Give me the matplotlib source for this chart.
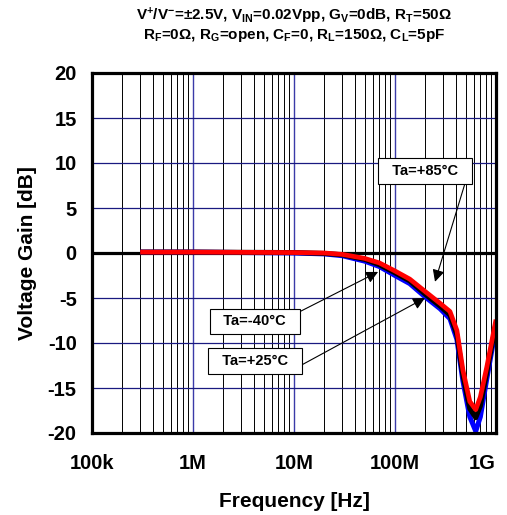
import numpy as np
import matplotlib
matplotlib.use('Agg')
import matplotlib.pyplot as plt
from matplotlib.ticker import FixedLocator, NullFormatter

plt.rcParams['font.family'] = ['Liberation Sans', 'DejaVu Sans']
plt.rcParams['font.weight'] = 'bold'
plt.rcParams['mathtext.fontset'] = 'custom'
plt.rcParams['mathtext.rm'] = 'Liberation Sans:bold'
plt.rcParams['mathtext.bf'] = 'Liberation Sans:bold'
plt.rcParams['mathtext.default'] = 'rm'

# frequency points [Hz]
freq = [3e5, 1e6, 1e7, 2e7, 3e7, 5e7, 7e7, 1e8, 1.4e8, 2e8, 2.8e8, 3.5e8,
        4.1e8, 4.7e8, 5.5e8, 6.3e8, 7e8, 8.1e8, 1e9]
# gain [dB] for each temperature
gain_m40 = [0.1, 0.1, 0.0, -0.1, -0.3, -0.9, -1.5, -2.5, -3.4, -4.9, -6.2, -7.3,
            -9.6, -14.2, -18.2, -19.8, -18.2, -14.0, -8.2]
gain_p25 = [0.1, 0.1, 0.05, -0.05, -0.2, -0.7, -1.3, -2.2, -3.1, -4.6, -5.9, -6.9,
            -9.1, -13.6, -17.3, -18.3, -17.0, -13.3, -7.8]
gain_p85 = [0.1, 0.1, 0.05, 0.0, -0.15, -0.6, -1.1, -2.0, -2.9, -4.3, -5.6, -6.5,
            -8.6, -13.0, -16.5, -17.4, -16.0, -12.7, -7.4]

xticks = [1e5, 1e6, 1e7, 1e8, 1e9]
xlabels = ['100k', '1M', '10M', '100M', '1G']
yticks = [-20, -15, -10, -5, 0, 5, 10, 15, 20]

fig = plt.figure(figsize=(5.07, 5.15), dpi=100)
ax = fig.add_axes([92/507, 82/515, 404/507, 360/515])

ax.set_xscale('log')
ax.set_xlim(1e5, 1e9)
ax.set_ylim(-20, 20)

# grid
minors = [m * 10**d for d in range(5, 9) for m in range(2, 10)]
for xm in minors:
    ax.axvline(xm, color='black', lw=0.7, zorder=1)
for xd in xticks[1:-1]:
    ax.axvline(xd, color='#3a3aa8', lw=1.0, zorder=1)
for yv in yticks:
    if yv == 0:
        ax.axhline(0, color='black', lw=2.3, zorder=2)
    else:
        ax.axhline(yv, color='#1a1a80', lw=0.9, zorder=1)

ax.plot(freq, gain_m40, color='#0000ff', lw=3.6, zorder=3, solid_capstyle='butt')
ax.plot(freq, gain_p25, color='black', lw=3.6, zorder=4, solid_capstyle='butt')
ax.plot(freq, gain_p85, color='#ff0000', lw=3.4, zorder=5, solid_capstyle='butt')

ax.xaxis.set_major_locator(FixedLocator(xticks))
ax.xaxis.set_minor_locator(FixedLocator(minors))
ax.xaxis.set_minor_formatter(NullFormatter())
ax.set_xticklabels(xlabels, fontsize=14.5, fontweight='bold')
ax.get_xticklabels()[-1].set_horizontalalignment('right')
ax.set_yticks(yticks)
ax.set_yticklabels([str(v) for v in yticks], fontsize=14.5, fontweight='bold')
ax.tick_params(which='both', length=0)
ax.tick_params(axis='x', pad=15)
ax.tick_params(axis='y', pad=11)
for s in ax.spines.values():
    s.set_linewidth(2.3)
    s.set_zorder(6)

ax.set_xlabel('Frequency [Hz]', fontsize=15, fontweight='bold', labelpad=14)
ax.set_ylabel('Voltage Gain [dB]', fontsize=15, fontweight='bold', labelpad=8)

fig.text(294/507, 1 - 16/515,
         r'V$^{+}$/V$^{-}$=±2.5V, V$_{IN}$=0.02Vpp, G$_{V}$=0dB, R$_{T}$=50Ω',
         ha='center', va='center', fontsize=11, fontweight='bold')
fig.text(294/507, 1 - 35/515,
         r'R$_{F}$=0Ω, R$_{G}$=open, C$_{F}$=0, R$_{L}$=150Ω, C$_{L}$=5pF',
         ha='center', va='center', fontsize=11, fontweight='bold')

box = dict(boxstyle='square,pad=0.4', fc='white', ec='black', lw=0.8)
arrow = dict(arrowstyle='-|>', color='black', lw=0.8, mutation_scale=18,
             shrinkA=0, shrinkB=0)

# annotations in data coordinates (freq, dB)
ax.annotate('  Ta=+85°C  ', xy=(2.49e8, -3.2), xytext=(2.0e8, 9.1),
            fontsize=10.5, fontweight='bold', ha='center', va='center',
            bbox=box, zorder=7,
            arrowprops=dict(arrow, relpos=(1.0, 0.0)))
ax.annotate('  Ta=-40°C  ', xy=(6.8e7, -2.1), xytext=(4.1e6, -7.6),
            fontsize=10.5, fontweight='bold', ha='center', va='center',
            bbox=box, zorder=7,
            arrowprops=dict(arrow, relpos=(1.0, 1.0)))
ax.annotate('  Ta=+25°C  ', xy=(1.98e8, -5.0), xytext=(4.1e6, -12.0),
            fontsize=10.5, fontweight='bold', ha='center', va='center',
            bbox=box, zorder=7,
            arrowprops=dict(arrow, relpos=(1.0, 0.0)))

fig.savefig('out.png', dpi=100)
